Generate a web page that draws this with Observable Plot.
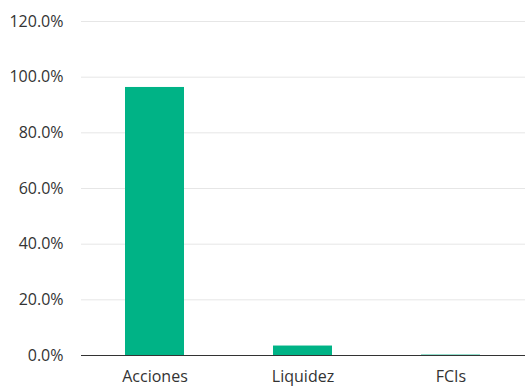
<!DOCTYPE html>
<html><head><meta charset="utf-8">
<script src="https://cdn.jsdelivr.net/npm/d3@7"></script>
<script src="https://cdn.jsdelivr.net/npm/@observablehq/plot@0.6"></script>
<style>body{margin:0;background:#fff;} svg{display:block;}</style>
</head><body><div id="chart"></div>
<script>
const categories = ["Acciones", "Liquidez", "FCIs"];
const values = [96.3, 3.4, 0.15];
const yTicks = [0, 20, 40, 60, 80, 100, 120];
const data = categories.map((c, i) => ({cat: c, v: values[i]}));
const chart = Plot.plot({
  width: 525, height: 386,
  marginTop: 21, marginBottom: 31, marginLeft: 81, marginRight: 0,
  style: {fontFamily: "Open Sans", fontSize: "16px", color: "#333"},
  x: {domain: categories, paddingInner: 0.6, paddingOuter: 0.3, label: null, tickSize: 0, tickPadding: 15},
  y: {domain: [0, 120], ticks: yTicks, label: null, tickSize: 0, tickPadding: 18, tickFormat: d => d.toFixed(1) + "%"},
  marks: [
    Plot.gridY(yTicks, {stroke: "#e6e6e6", strokeOpacity: 1}),
    Plot.barY(data, {x: "cat", y: "v", fill: "#00b386"}),
    Plot.ruleY([0], {stroke: "#333", strokeWidth: 1})
  ]
});
document.getElementById("chart").append(chart);
</script></body></html>
